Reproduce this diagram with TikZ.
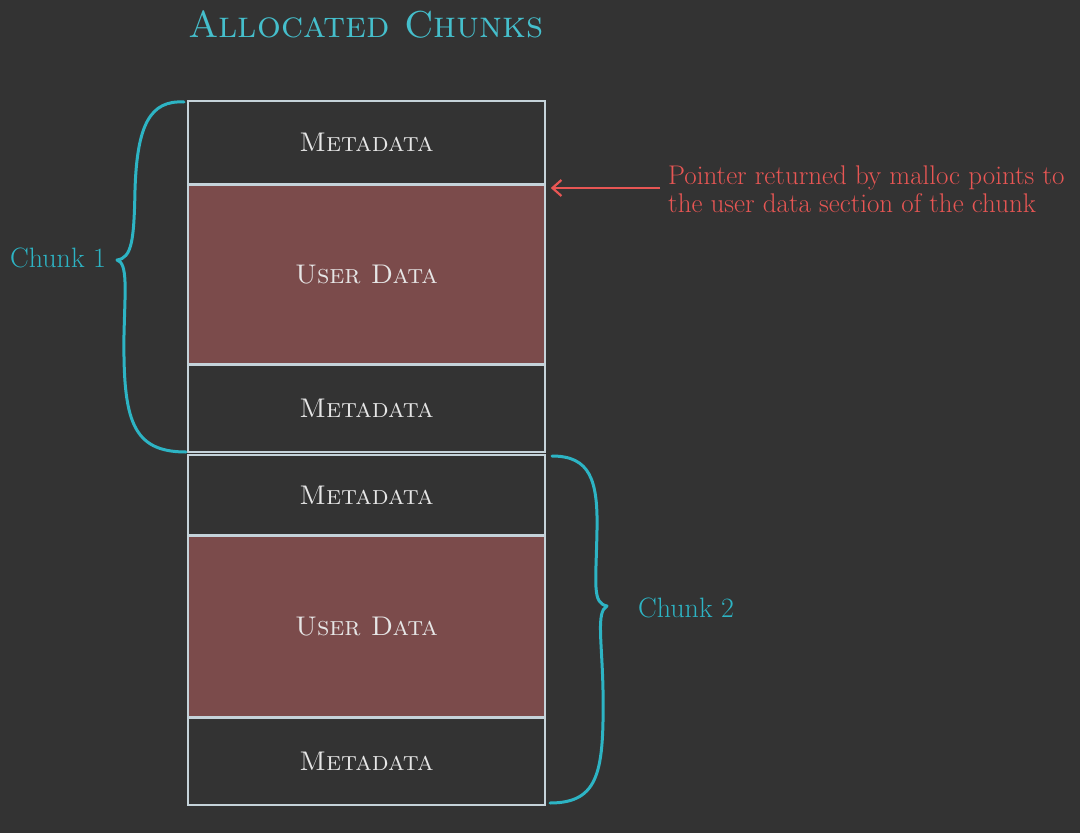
\documentclass[tikz,border=0pt]{standalone}
\usepackage{fontspec}
\usetikzlibrary{arrows.meta}
\definecolor{bg}{HTML}{333333}
\definecolor{ud}{HTML}{7B4B4B}
\definecolor{edge}{HTML}{C5D3DA}
\definecolor{cyanT}{HTML}{45BFCC}
\definecolor{brc}{HTML}{2DB4C4}
\definecolor{redT}{HTML}{E85654}
\definecolor{txt}{HTML}{E6E6E6}
\tikzset{
  blk/.style={draw=edge, line width=1.6pt, minimum width=357pt, inner sep=0pt, text=txt,
    font=\fontsize{27}{30}\selectfont\scshape},
  meta/.style={blk, fill=bg},
  user/.style={blk, fill=ud},
  brace/.style={draw=brc, line width=3pt, line cap=round, line join=round},
  chunklbl/.style={text=brc, font=\fontsize{28}{30}\selectfont, inner sep=0pt},
}
\begin{document}
\begin{tikzpicture}[x=1pt,y=-1pt]
\fill[bg] (0,0) rectangle (1080,833);
\useasboundingbox (0,0) rectangle (1080,833);
\node[text=cyanT, font=\fontsize{37.5}{40}\selectfont\scshape, inner sep=0pt] (title) at (366,24) {Allocated Chunks};
% chunk 1
\node[meta, minimum height=83pt] (m1) at (366.5,142.5) {Metadata};
\node[user, minimum height=181pt] (u1) at (366.5,274.5) {User Data};
\node[meta, minimum height=87pt] (m2) at (366.5,408.5) {Metadata};
% chunk 2
\node[meta, minimum height=81pt] (m3) at (366.5,495.5) {Metadata};
\node[user, minimum height=181pt] (u2) at (366.5,626.5) {User Data};
\node[meta, minimum height=88pt] (m4) at (366.5,761) {Metadata};
% redraw separating lines on top
\draw[edge, line width=1.6pt] (m1.south west) -- (m1.south east);
\draw[edge, line width=1.6pt] (m2.north west) -- (m2.north east);
\draw[edge, line width=1.6pt] (u2.north west) -- (u2.north east);
\draw[edge, line width=1.6pt] (u2.south west) -- (u2.south east);
% labels
\node[chunklbl] (c1) at (58,258) {Chunk 1};
\node[chunklbl] (c2) at (686,608) {Chunk 2};
% brace 1
\draw[brace] (184,102) .. controls (150,100) and (137,125) .. (135,190)
  .. controls (134,240) and (132,258) .. (117,260)
  .. controls (128,263) and (125,290) .. (124,335)
  .. controls (123,420) and (132,452) .. (186,452);
% brace 2
\draw[brace] (552,456) .. controls (590,456) and (598,480) .. (597,530)
  .. controls (596,585) and (592,603) .. (607,606)
  .. controls (596,612) and (602,640) .. (603,690)
  .. controls (604,770) and (600,803) .. (550,803);
% pointer
\node[text=redT, font=\fontsize{27}{28}\selectfont, align=left, anchor=west, inner sep=0pt] (ptr) at (668,189)
  {Pointer returned by malloc points to\\the user data section of the chunk};
\coordinate (ps) at (660,188);
\draw[redT, line width=2.2pt, -{Straight Barb[length=9pt,width=16pt]}] (ps) -- ([xshift=5pt]u1.east |- ps);
\end{tikzpicture}
\end{document}
